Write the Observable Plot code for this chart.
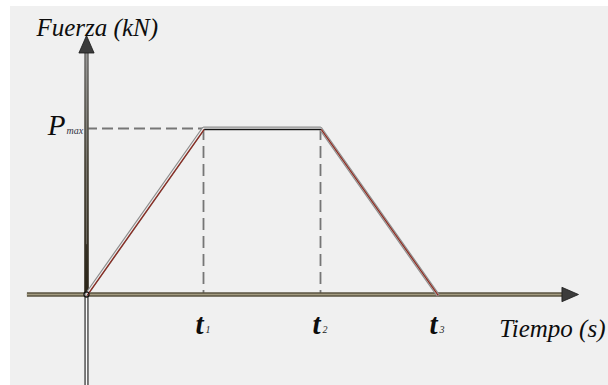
<!DOCTYPE html>
<html>
<head>
<meta charset="utf-8">
<script src="https://cdn.jsdelivr.net/npm/d3@7"></script>
<script src="https://cdn.jsdelivr.net/npm/@observablehq/plot@0.6"></script>
<style>
  html, body { margin: 0; padding: 0; background: #fff; }
  #grafico svg { display: block; box-shadow: inset 10px 6px 0 0 #fff; }
</style>
</head>
<body>
<div id="grafico"></div>
<script>
// Ciclo de carga trapezoidal: subida hasta Pmax, meseta y descarga.
const tiempo = [0, 1, 2, 3];          // t0, t1, t2, t3
const fuerza = [0, 1, 1, 0];          // Pmax normalizada a 1
const marcasTiempo = ["t", "t", "t"];
const subindicesTiempo = ["1", "2", "3"];
const etiquetaFuerza = ["P"];
const subindiceFuerza = ["max"];
const tituloY = ["Fuerza (kN)"];
const tituloX = ["Tiempo (s)"];
const tramos = ["subida", "meseta", "bajada"];
// alcance de los ejes dibujados, en unidades de los datos
const ejeX = [-0.505, 4.205];
const ejeY = [-0.6, 1.56];

const serif = "Liberation Serif";
const puntos = tiempo.map((t, i) => ({t, f: fuerza[i]}));
const segmentos = tramos.map((tramo, i) => ({
  tramo, t1: tiempo[i], f1: fuerza[i], t2: tiempo[i + 1], f2: fuerza[i + 1]
}));
const colorTramo = {subida: "#8a2a20", meseta: "#151515", bajada: "#8a2a20"};

// punta de flecha rellena, con el vértice en el origen del símbolo
const punta = {
  draw(ctx, size) {
    const r = Math.sqrt(size / Math.PI);
    ctx.moveTo(0, 0);
    ctx.lineTo(-2.3 * r, -r);
    ctx.lineTo(-2.3 * r, r);
    ctx.closePath();
  }
};

const x = {domain: [0, 3], range: [86, 437]};
const y = {domain: [0, 1], range: [294, 128]};
const largoPuntaX = 16 / 117, largoPuntaY = 18 / 166;
const pmax = fuerza[1];
const rotulo = {fontFamily: serif, fontStyle: "italic", fill: "#0d0d0d"};

const grafico = Plot.plot({
  width: 608,
  height: 385,
  margin: 0,
  x: {...x, axis: null},
  y: {...y, axis: null},
  style: {background: "#f0f0f0", overflow: "visible"},
  marks: [
    // líneas de referencia discontinuas
    Plot.ruleY([pmax], {x1: tiempo[0], x2: tiempo[1], stroke: "#767676", strokeWidth: 1.8, strokeDasharray: "11,5"}),
    Plot.ruleX([tiempo[1], tiempo[2]], {y1: pmax, y2: 0, stroke: "#767676", strokeWidth: 1.8, strokeDasharray: "12,6"}),

    // eje de fuerza por debajo del origen (trazo doble)
    Plot.ruleX([0], {y1: 0, y2: ejeY[0], stroke: "#3a3a3a", strokeWidth: 4.2}),
    Plot.ruleX([0], {y1: 0, y2: ejeY[0], stroke: "#fbfbfb", strokeWidth: 1.6}),
    // eje de fuerza por encima del origen
    Plot.ruleX([0], {y1: 0, y2: ejeY[1] - largoPuntaY, stroke: "url(#gradEjeY)", strokeWidth: 4.6}),
    Plot.ruleX([0], {y1: 0.3, y2: ejeY[1] - largoPuntaY, stroke: "#ffffff", strokeOpacity: 0.25, strokeWidth: 1.1}),
    Plot.dot([{t: 0, f: ejeY[1]}], {x: "t", y: "f", symbol: punta, r: 7.6, rotate: -90, fill: "#3c3c3c", stroke: "#1a1a1a", strokeWidth: 0.8}),

    // eje de tiempo
    Plot.ruleY([0], {x1: ejeX[0], x2: ejeX[1] - largoPuntaX, stroke: "#5a5340", strokeWidth: 4.6}),
    Plot.ruleY([0], {x1: ejeX[0], x2: ejeX[1] - largoPuntaX, stroke: "#a39b80", strokeWidth: 1.3}),
    Plot.dot([{t: ejeX[1], f: 0}], {x: "t", y: "f", symbol: punta, r: 7.2, fill: "#3c3c3c", stroke: "#1a1a1a", strokeWidth: 0.8}),

    // curva fuerza-tiempo
    Plot.line(puntos, {x: "t", y: "f", stroke: "#8e8e8e", strokeWidth: 3.8, strokeLinejoin: "miter"}),
    Plot.line(puntos, {x: "t", y: "f", stroke: "#ededed", strokeWidth: 1.4, strokeLinejoin: "miter"}),
    Plot.link(segmentos, {x1: "t1", y1: "f1", x2: "t2", y2: "f2", stroke: d => colorTramo[d.tramo], strokeWidth: 1.3, dx: 0.7, dy: 0.8}),
    Plot.dot([puntos[0]], {x: "t", y: "f", r: 2.6, fill: "none", stroke: "#111", strokeWidth: 1.1}),

    // rótulos
    Plot.text(tituloY, {...rotulo, text: d => d, frameAnchor: "top-left", textAnchor: "start", dx: 36, dy: 18, fontSize: 25}),
    Plot.text(tituloX, {...rotulo, text: d => d, frameAnchor: "top-right", textAnchor: "end", dx: -3, dy: 319, fontSize: 25}),
    Plot.text(etiquetaFuerza, {...rotulo, x: tiempo[0], y: pmax, text: d => d, textAnchor: "end", dx: -21, dy: -3, fontSize: 29}),
    Plot.text(subindiceFuerza, {...rotulo, x: tiempo[0], y: pmax, text: d => d, textAnchor: "start", dx: -20, dy: 2, fontSize: 10, fill: "#334"}),
    Plot.text(marcasTiempo, {...rotulo, x: (d, i) => tiempo[i + 1], y: 0, text: d => d, textAnchor: "middle", dx: -4, dy: 30, fontSize: 29, fontWeight: "bold"}),
    Plot.text(subindicesTiempo, {...rotulo, x: (d, i) => tiempo[i + 1], y: 0, text: d => d, textAnchor: "start", dx: 2, dy: 35, fontSize: 10, fill: "#222"})
  ]
});

// degradado del eje vertical: gris en la punta, oscuro en el origen
const escalaY = grafico.scale("y");
const defs = d3.select(grafico).insert("defs", ":first-child");
const grad = defs.append("linearGradient")
  .attr("id", "gradEjeY")
  .attr("gradientUnits", "userSpaceOnUse")
  .attr("x1", 0).attr("x2", 0)
  .attr("y1", escalaY.apply(ejeY[1])).attr("y2", escalaY.apply(0));
grad.append("stop").attr("offset", 0).attr("stop-color", "#7a7a7a");
grad.append("stop").attr("offset", 0.5).attr("stop-color", "#4a463a");
grad.append("stop").attr("offset", 1).attr("stop-color", "#2a2418");

document.getElementById("grafico").append(grafico);
</script>
</body>
</html>
